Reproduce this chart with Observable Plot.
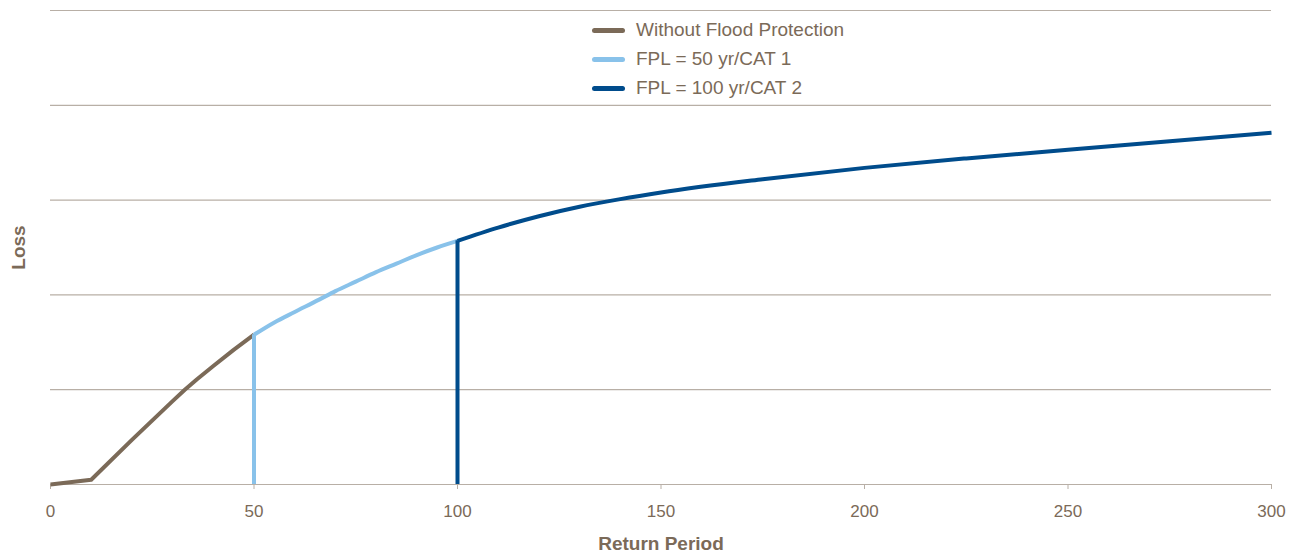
<!DOCTYPE html>
<html>
<head>
<meta charset="utf-8">
<script src="https://cdn.jsdelivr.net/npm/d3@7"></script>
<script src="https://cdn.jsdelivr.net/npm/@observablehq/plot@0.6"></script>
<style>
  html, body { margin: 0; padding: 0; background: #fff; }
  #wrap { position: relative; width: 1299px; height: 556px; font-family: "Liberation Sans", Arial, sans-serif; }
  #legend { position: absolute; left: 592px; top: 15.5px; color: #7b6a58; font-size: 19px; }
  .row { display: flex; align-items: center; height: 29px; }
  .sw { width: 33px; height: 5px; border-radius: 3px; margin-right: 11px; }
  g[aria-label="x-axis label"] text, g[aria-label="y-axis label"] text { font-weight: bold; font-size: 19px; }
</style>
</head>
<body>
<div id="wrap"></div>
<script>
// Data
const seriesNames = ["Without Flood Protection", "FPL = 50 yr/CAT 1", "FPL = 100 yr/CAT 2"];
const seriesColors = ["#7b6a58", "#89c2ea", "#004c8c"];

const noProtT    = [0, 10, 20, 30, 33, 36, 40, 45, 50];
const noProtLoss = [0, 0.05, 0.47, 0.88, 1.00, 1.11, 1.25, 1.42, 1.58];

const fpl50T    = [50, 55, 60, 66, 70, 75, 80, 85, 90, 95, 100];
const fpl50Loss = [1.58, 1.71, 1.82, 1.95, 2.04, 2.14, 2.24, 2.33, 2.42, 2.50, 2.57];

const fpl100T    = [100, 110, 120, 130, 140, 150, 175, 200, 225, 250, 275, 300];
const fpl100Loss = [2.57, 2.71, 2.83, 2.93, 3.01, 3.08, 3.22, 3.34, 3.44, 3.53, 3.62, 3.71];

const xTicks = [0, 50, 100, 150, 200, 250, 300];
const yGrid = [0, 1, 2, 3, 4, 5];

const toRows = (T, L) => T.map((t, i) => ({t, loss: L[i]}));
const noProt = toRows(noProtT, noProtLoss);
const fpl50 = toRows(fpl50T, fpl50Loss);
const fpl100 = toRows(fpl100T, fpl100Loss);

const textColor = "#7b6a58";
const gridColor = "#b8afa6";

const chart = Plot.plot({
  width: 1299,
  height: 556,
  marginLeft: 50,
  marginRight: 28,
  marginTop: 10,
  marginBottom: 72,
  style: { fontFamily: "Liberation Sans, Arial, sans-serif", color: textColor, background: "transparent" },
  x: { domain: [0, 300] },
  y: { domain: [0, 5] },
  marks: [
    Plot.ruleY(yGrid, { stroke: gridColor, strokeWidth: 1.2 }),
    Plot.axisX({ ticks: xTicks, tickSize: 5, tickPadding: 15, fontSize: 17, stroke: gridColor, fill: textColor,
                 label: "Return Period", labelAnchor: "center", labelArrow: "none", labelOffset: 65 }),
    Plot.axisY({ ticks: [], label: "Loss", labelAnchor: "center", labelArrow: "none", labelOffset: 39, fill: textColor }),
    Plot.line(noProt, { x: "t", y: "loss", stroke: seriesColors[0], strokeWidth: 4, strokeLinecap: "butt" }),
    Plot.ruleX([fpl50[0]], { x: "t", y1: 0, y2: "loss", stroke: seriesColors[1], strokeWidth: 4 }),
    Plot.line(fpl50, { x: "t", y: "loss", stroke: seriesColors[1], strokeWidth: 4, strokeLinecap: "butt", curve: "monotone-x" }),
    Plot.ruleX([fpl100[0]], { x: "t", y1: 0, y2: "loss", stroke: seriesColors[2], strokeWidth: 4 }),
    Plot.line(fpl100, { x: "t", y: "loss", stroke: seriesColors[2], strokeWidth: 4, strokeLinecap: "butt", curve: "monotone-x" })
  ]
});

const wrap = document.getElementById("wrap");
wrap.appendChild(chart);

const legend = document.createElement("div");
legend.id = "legend";
seriesNames.forEach((name, i) => {
  const row = document.createElement("div");
  row.className = "row";
  const sw = document.createElement("div");
  sw.className = "sw";
  sw.style.background = seriesColors[i];
  const label = document.createElement("span");
  label.textContent = name;
  row.appendChild(sw);
  row.appendChild(label);
  legend.appendChild(row);
});
wrap.appendChild(legend);
</script>
</body>
</html>
